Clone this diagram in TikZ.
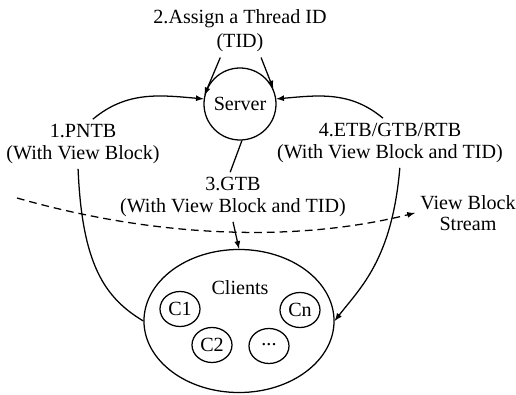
\documentclass[tikz,border=0pt]{standalone}
\usepackage{fontspec}
\setmainfont{Liberation Serif}
\usepackage{tikz}
\usetikzlibrary{shapes.geometric}

\begin{document}
\begin{tikzpicture}[x=0.025cm, y=-0.025cm, line width=0.9pt,
        every node/.style={font=\fontsize{14.3}{15.2}\selectfont},
        lbl/.style={align=center},
        part/.style={ellipse, draw, minimum width=1cm, minimum height=0.875cm, inner sep=0pt},
        stream/.style={dashed, dash pattern=on 5.5pt off 3.5pt}]
        \useasboundingbox (0,0) rectangle (516,395);

        % Nodes
        \node[circle, draw, minimum size=1.8cm] (server) at (240,104) {Server};
        \node[lbl] (assign) at (240,31) {2.Assign a Thread ID\\[2pt](TID)};
        \node[lbl] (pntb) at (83,144) {1.PNTB\\(With View Block)};
        \node[lbl] (etb) at (390,143) {4.ETB/GTB/RTB\\(With View Block and TID)};
        \node[lbl] (gtb) at (233,197) {3.GTB\\(With View Block and TID)};
        \node[lbl] (vbs) at (468,213) {View Block\\Stream};
        \node[ellipse, draw, minimum width=4.75cm, minimum height=3.575cm] (clients) at (239,321) {};
        \node (clientstxt) at (240,288) {Clients};
        \node[part] (c1) at (180,309) {C1};
        \node[part] (c2) at (212,345) {C2};
        \node[part] (cdots) at (269,346) {\raisebox{0.35ex}{...}};
        \node[part] (cn) at (300,310) {Cn};
        \coordinate (vbstart) at (17,198);

        % Lines
        \draw[-latex] ([xshift=-14pt]assign.south) -- (server.166);
        \draw[-latex] ([xshift=15pt]assign.south) -- (server.25);
        \draw[-latex] ([xshift=7pt]pntb.north) to[out=40, in=175] (server.172);
        \draw[-latex] ([xshift=-5pt]etb.north) to[out=140, in=5] (server.8);
        \draw[-] (server.-87) -- ([xshift=-2pt]gtb.north);
        \draw[-latex] (gtb.south) -- (clients.north);
        \draw[-] ([xshift=-3.5pt]pntb.south) .. controls (82,265) and (105,298) .. (clients.west);
        \draw[-latex] ([xshift=7pt]etb.south) .. controls (392,260) and (360,288) .. (clients.east);
        \draw[stream, -latex] (vbstart) .. controls (150,236) and (290,244) .. (vbs.west);
\end{tikzpicture}
\end{document}
